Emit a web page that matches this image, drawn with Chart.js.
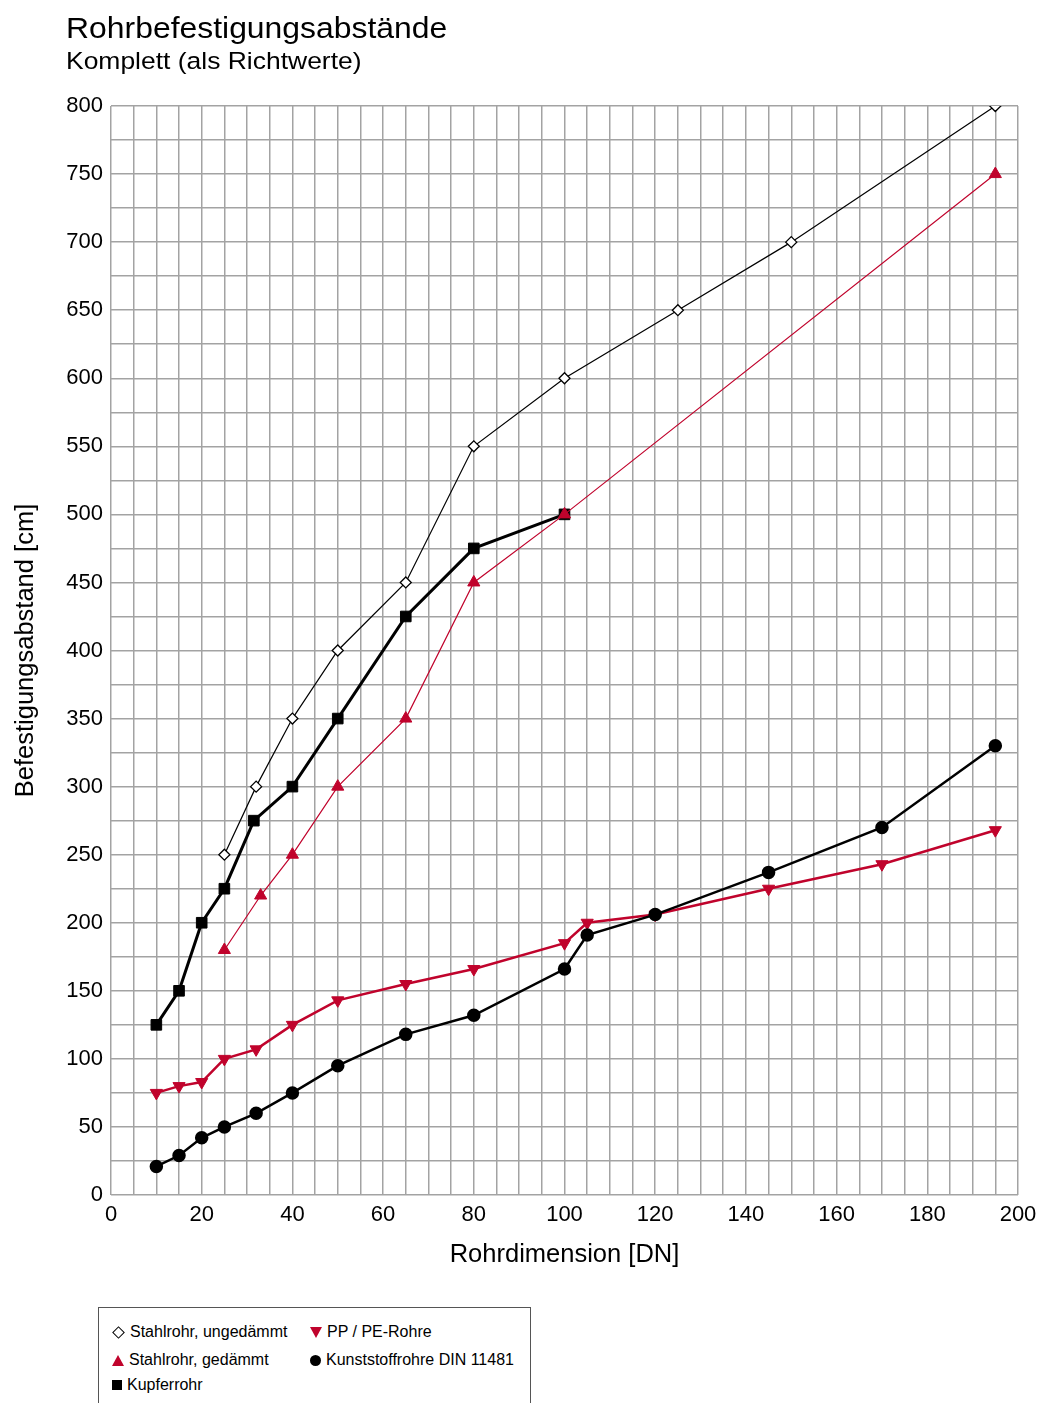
<!DOCTYPE html>
<html>
<head>
<meta charset="utf-8">
<script src="https://cdn.jsdelivr.net/npm/chart.js@4.4.1/dist/chart.umd.min.js"></script>
<style>
    body { margin: 0; background: #fff; font-family: "Liberation Sans", Arial, sans-serif; }
    #page { position: relative; width: 1040px; height: 1403px; overflow: hidden; }
    #title { position: absolute; left: 66px; top: 14px; font-size: 29px; line-height: 1; color: #000; transform: scaleX(1.1); transform-origin: left top; }
    #subtitle { position: absolute; left: 66px; top: 49px; font-size: 24.5px; line-height: 1; color: #000; transform: scaleX(1.08); transform-origin: left top; }
    #chart-wrap { position: absolute; left: 0; top: 0; width: 1040px; height: 1290px; }
    #legend { position: absolute; left: 98px; top: 1307px; width: 431px; height: 120px; border: 1px solid #555; }
    .leg-item { position: absolute; font-size: 16px; color: #000; display: flex; align-items: center; white-space: nowrap; }
    .mk { display: inline-block; margin-right: 5px; }
    .mk-diamond { width: 7px; height: 7px; border: 1.5px solid #000; background: #fff; transform: rotate(45deg); margin-left: 2px; margin-right: 7px; }
    .mk-square { width: 10px; height: 10px; background: #000; }
    .mk-circle { width: 11px; height: 11px; border-radius: 50%; background: #000; }
    .mk-up { width: 0; height: 0; border-left: 6px solid transparent; border-right: 6px solid transparent; border-bottom: 11px solid #c0032c; }
    .mk-down { width: 0; height: 0; border-left: 6px solid transparent; border-right: 6px solid transparent; border-top: 11px solid #c0032c; }
</style>
</head>
<body>
<div id="page">
    <div id="chart-wrap"><canvas id="chart"></canvas></div>
    <div id="title">Rohrbefestigungsabstände</div>
    <div id="subtitle">Komplett (als Richtwerte)</div>
    <div id="legend"></div>
</div>
<script>
// Data (x = DN, y = cm)
const stahlUngedX = [25, 32, 40, 50, 65, 80, 100, 125, 150, 195];
const stahlUngedY = [250, 300, 350, 400, 450, 550, 600, 650, 700, 800];

const stahlGedX = [25, 33, 40, 50, 65, 80, 100, 195];
const stahlGedY = [180, 220, 250, 300, 350, 450, 500, 750];

const kupferX = [10, 15, 20, 25, 31.5, 40, 50, 65, 80, 100];
const kupferY = [125, 150, 200, 225, 275, 300, 350, 425, 475, 500];

const ppX = [10, 15, 20, 25, 32, 40, 50, 65, 80, 100, 105, 120, 145, 170, 195];
const ppY = [75, 80, 83, 100, 107, 125, 143, 155, 166, 185, 200, 206, 225, 243, 268];

const kunstX = [10, 15, 20, 25, 32, 40, 50, 65, 80, 100, 105, 120, 145, 170, 195];
const kunstY = [21, 29, 42, 50, 60, 75, 95, 118, 132, 166, 191, 206, 237, 270, 330];

const seriesNames = [
    'Stahlrohr, ungedämmt',
    'Stahlrohr, gedämmt',
    'Kupferrohr',
    'PP / PE-Rohre',
    'Kunststoffrohre DIN 11481'
];

const RED = '#c0032c';
const FONT = '"Liberation Sans", Arial, sans-serif';

function toPoints(xs, ys) {
    return xs.map((x, i) => ({ x: x, y: ys[i] }));
}

const datasets = [
    {
        label: seriesNames[4],
        data: toPoints(kunstX, kunstY),
        borderColor: '#000', backgroundColor: '#000',
        borderWidth: 2.5, pointStyle: 'circle', pointRadius: 5.5
    },
    {
        label: seriesNames[3],
        data: toPoints(ppX, ppY),
        borderColor: RED, backgroundColor: RED,
        borderWidth: 2.5, pointStyle: 'triangle', pointRotation: 180, pointRadius: 7, pointBorderWidth: 1
    },
    {
        label: seriesNames[1],
        data: toPoints(stahlGedX, stahlGedY),
        borderColor: RED, backgroundColor: RED,
        borderWidth: 1.2, pointStyle: 'triangle', pointRadius: 7, pointBorderWidth: 1
    },
    {
        label: seriesNames[2],
        data: toPoints(kupferX, kupferY),
        borderColor: '#000', backgroundColor: '#000',
        borderWidth: 3, pointStyle: 'rect', pointRadius: 7.5, pointBorderWidth: 1
    },
    {
        label: seriesNames[0],
        data: toPoints(stahlUngedX, stahlUngedY),
        borderColor: '#000', backgroundColor: '#fff',
        borderWidth: 1.2, pointStyle: 'rectRot', pointRadius: 5.5, pointBorderWidth: 1.3
    }
];
datasets.forEach(d => { d.tension = 0; d.fill = false; });

const ctx = document.getElementById('chart').getContext('2d');
const chart = new Chart(ctx, {
    type: 'line',
    data: { datasets: datasets },
    options: {
        responsive: true,
        maintainAspectRatio: false,
        animation: false,
        layout: { padding: { left: 11, top: 106, right: 22, bottom: 0 } },
        plugins: {
            legend: { display: false },
            tooltip: { enabled: false }
        },
        scales: {
            x: {
                type: 'linear', min: 0, max: 200,
                afterFit: (scale) => {
                    scale.height = 95;
                    scale.paddingLeft = 0;
                    scale.paddingRight = 0;
                },
                border: { display: false },
                grid: { color: '#a3a3a3', lineWidth: 1.5, drawTicks: false },
                ticks: {
                    stepSize: 5, autoSkip: false, maxRotation: 0, padding: 7,
                    color: '#000', font: { family: FONT, size: 22 },
                    callback: (v) => (v % 20 === 0 ? v : '')
                },
                title: {
                    display: true, text: 'Rohrdimension [DN]', color: '#000',
                    font: { family: FONT, size: 25.5 }, padding: { top: 0, bottom: 20 }
                }
            },
            y: {
                type: 'linear', min: 0, max: 800,
                afterFit: (scale) => { scale.width = 100; },
                border: { display: false },
                grid: { color: '#a3a3a3', lineWidth: 1.5, drawTicks: false },
                ticks: {
                    stepSize: 25, autoSkip: false, padding: 8,
                    color: '#000', font: { family: FONT, size: 22 },
                    callback: (v) => (v % 50 === 0 ? v : '')
                },
                title: {
                    display: true, text: 'Befestigungsabstand [cm]', color: '#000',
                    font: { family: FONT, size: 25.5 }, padding: { top: 0, bottom: 0 }
                }
            }
        }
    }
});

// HTML legend in two columns
const legendItems = [
    { name: seriesNames[0], cls: 'mk-diamond', left: 13, top: 15 },
    { name: seriesNames[1], cls: 'mk-up', left: 13, top: 43 },
    { name: seriesNames[2], cls: 'mk-square', left: 13, top: 68 },
    { name: seriesNames[3], cls: 'mk-down', left: 211, top: 15 },
    { name: seriesNames[4], cls: 'mk-circle', left: 211, top: 43 }
];
const legendBox = document.getElementById('legend');
legendItems.forEach(item => {
    const div = document.createElement('div');
    div.className = 'leg-item';
    div.style.left = item.left + 'px';
    div.style.top = item.top + 'px';
    div.innerHTML = `<span class="mk ${item.cls}"></span><span>${item.name}</span>`;
    legendBox.appendChild(div);
});
</script>
</body>
</html>
